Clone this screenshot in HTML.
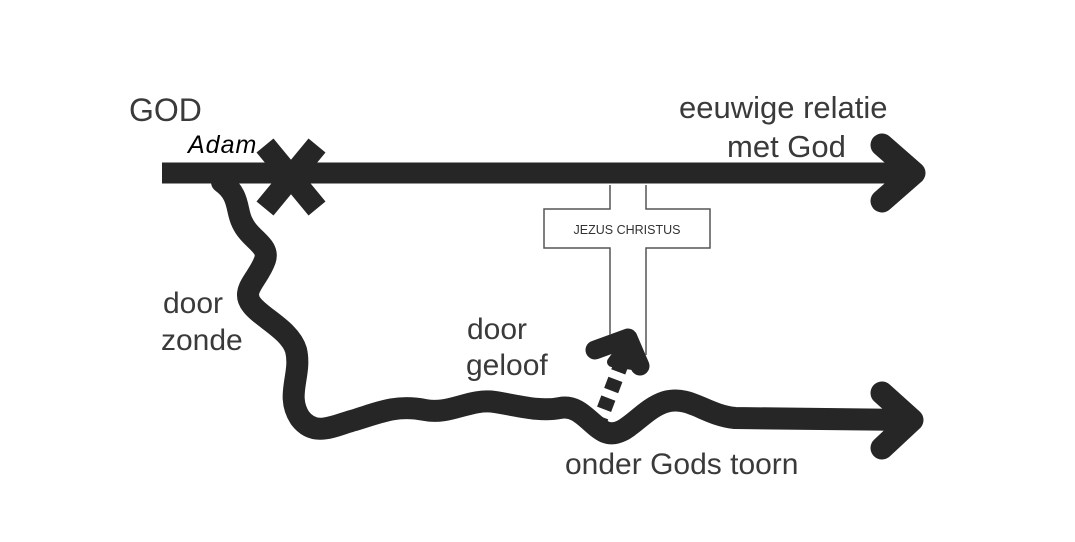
<!DOCTYPE html>
<html><head><style>
body{margin:0;background:#fff;width:1075px;height:542px;overflow:hidden}
svg{display:block}
text{font-family:"Liberation Sans",sans-serif;fill:#3a3a3a}
</style></head><body>
<svg width="1075" height="542" viewBox="0 0 1075 542">
<g stroke="#262626" fill="none" stroke-linecap="round" stroke-linejoin="round">
<line x1="162" y1="173" x2="912" y2="173" stroke-width="21" stroke-linecap="butt"/>
<polyline points="882,145 914,173 882,201" stroke-width="23"/>
<path d="M222,182 C240,195 236,210 242,222 C250,240 270,245 265,260 C258,280 240,290 252,305 C262,318 290,330 296,350 C302,375 285,395 300,418 C315,438 335,425 355,420 C385,410 400,405 425,410 C450,415 470,398 495,402 C520,406 540,412 560,408 C580,404 590,425 605,432 C625,440 640,410 665,402 C690,395 705,415 735,418 L908,420" stroke-width="22"/>
<polyline points="882,393 912,420 882,448" stroke-width="23"/>
<line x1="272" y1="154" x2="310" y2="200" stroke-width="22" stroke-linecap="square"/>
<line x1="310" y1="154" x2="272" y2="200" stroke-width="22" stroke-linecap="square"/>
<line x1="597" y1="428" x2="622" y2="362" stroke-width="15" stroke-dasharray="12,8" stroke-linecap="butt"/>
<polyline points="595,350 628,338 640,366" stroke-width="19"/>
<path d="M612,362 L628,340 L633,365 Z" fill="#262626" stroke-width="10"/>
</g>
<g stroke="#555" stroke-width="1.5" fill="#fff">
<polyline points="610,185 610,209 544,209 544,248 610,248 610,335" fill="none"/>
<polyline points="646,185 646,209 710,209 710,248 646,248 646,355" fill="none"/>
</g>
<text x="627" y="234" font-size="12.5" text-anchor="middle" style="fill:#333">JEZUS CHRISTUS</text>
<text x="129" y="121" font-size="32">GOD</text>
<text x="188" y="153" font-size="25" font-style="italic" letter-spacing="1" style="fill:#000">Adam</text>
<text x="679" y="118" font-size="31">eeuwige relatie</text>
<text x="727" y="157" font-size="31">met God</text>
<text x="163" y="313" font-size="30">door</text>
<text x="161" y="350" font-size="30">zonde</text>
<text x="467" y="339" font-size="30">door</text>
<text x="466" y="375" font-size="30">geloof</text>
<text x="565" y="474" font-size="30">onder Gods toorn</text>
</svg>
</body></html>
